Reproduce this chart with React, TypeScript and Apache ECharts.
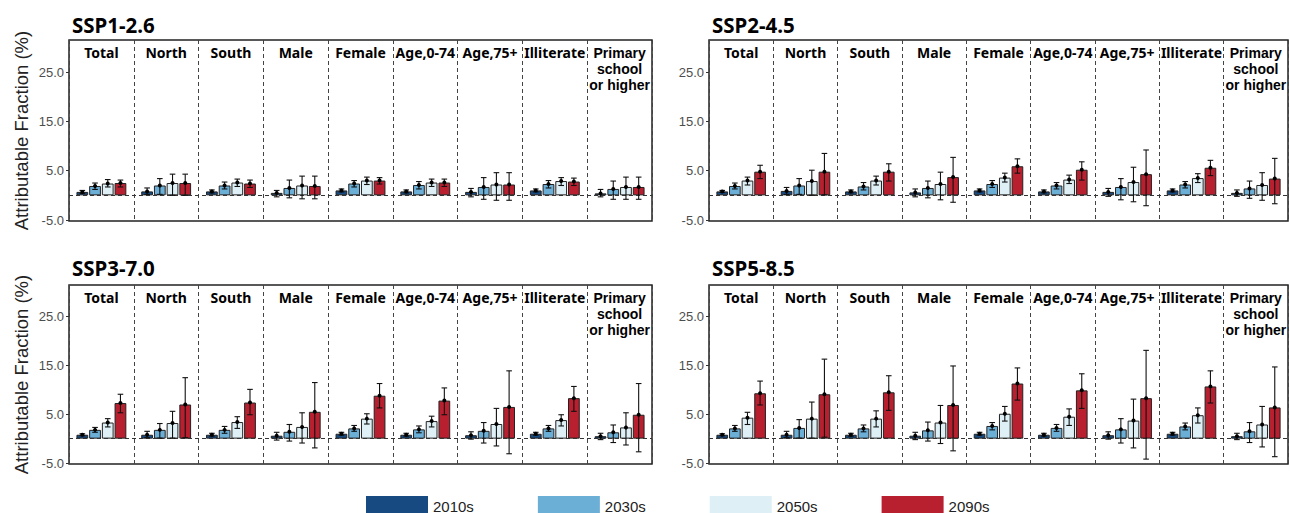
import React, { useEffect, useRef } from "react";
import * as echarts from "echarts";

// ---------- data ----------
const categories = [
  "Total",
  "North",
  "South",
  "Male",
  "Female",
  "Age,0-74",
  "Age,75+",
  "Illiterate",
  "Primary\nschool\nor higher",
];
const decades = ["2010s", "2030s", "2050s", "2090s"];
const decadeColors = ["#164a80", "#6baed6", "#def0f6", "#b8202f"];
const scenarios = ["SSP1-2.6", "SSP2-4.5", "SSP3-7.0", "SSP5-8.5"];
const yTickValues = [-5, 5, 15, 25];

// rows: 2010s, 2030s, 2050s, 2090s ; columns follow categories
const ssp126Mean = [
  [0.7, 0.8, 0.8, 0.5, 1.0, 0.8, 0.7, 1.0, 0.4],
  [1.9, 2.0, 2.0, 1.5, 2.4, 2.1, 1.7, 2.3, 1.3],
  [2.4, 2.5, 2.6, 2.0, 3.0, 2.6, 2.2, 2.9, 1.7],
  [2.5, 2.5, 2.4, 1.9, 3.0, 2.6, 2.2, 2.8, 1.7],
];
const ssp126Low = [
  [0.4, 0.2, 0.5, -0.3, 0.7, 0.5, -0.3, 0.7, -0.3],
  [1.2, 0.2, 1.3, -0.5, 1.7, 1.3, -0.8, 1.5, -0.8],
  [1.7, 0.0, 1.8, -0.7, 2.2, 1.8, -1.0, 2.0, -0.8],
  [1.7, 0.0, 1.6, -0.7, 2.3, 1.8, -1.0, 2.0, -0.8],
];
const ssp126High = [
  [1.0, 1.5, 1.1, 1.0, 1.3, 1.1, 1.4, 1.3, 1.2],
  [2.5, 3.4, 2.7, 3.1, 3.0, 2.8, 3.6, 3.0, 2.9],
  [3.2, 4.3, 3.3, 3.9, 3.7, 3.3, 4.6, 3.6, 3.7],
  [3.1, 4.3, 3.1, 3.9, 3.6, 3.3, 4.6, 3.5, 3.7],
];

const ssp245Mean = [
  [0.8, 0.9, 0.8, 0.6, 1.0, 0.8, 0.7, 1.0, 0.5],
  [1.9, 2.0, 1.8, 1.5, 2.3, 2.0, 1.7, 2.2, 1.4],
  [3.0, 2.9, 3.0, 2.3, 3.6, 3.2, 2.7, 3.5, 2.1],
  [4.8, 4.8, 4.8, 3.7, 5.9, 5.2, 4.3, 5.6, 3.4],
];
const ssp245Low = [
  [0.6, 0.2, 0.5, -0.3, 0.7, 0.5, -0.2, 0.7, -0.2],
  [1.3, 0.2, 1.1, -0.5, 1.6, 1.3, -0.9, 1.5, -0.6],
  [2.1, 0.0, 2.1, -0.9, 2.7, 2.4, -1.3, 2.6, -1.0],
  [3.4, 0.1, 2.9, -1.4, 4.5, 3.1, -2.1, 4.0, -1.7],
];
const ssp245High = [
  [1.0, 1.6, 1.1, 1.3, 1.3, 1.1, 1.4, 1.3, 1.1],
  [2.5, 3.4, 2.6, 2.9, 3.0, 2.6, 3.4, 2.8, 2.9],
  [3.7, 5.1, 3.9, 4.7, 4.5, 4.1, 5.7, 4.4, 4.6],
  [6.1, 8.5, 6.4, 7.7, 7.4, 6.8, 9.2, 7.1, 7.5],
];

const ssp370Mean = [
  [0.8, 0.8, 0.8, 0.6, 1.0, 0.8, 0.7, 1.0, 0.5],
  [1.8, 1.8, 1.8, 1.4, 2.1, 1.9, 1.6, 2.1, 1.3],
  [3.3, 3.2, 3.4, 2.4, 4.1, 3.6, 3.0, 3.8, 2.3],
  [7.3, 7.0, 7.4, 5.5, 8.8, 7.8, 6.5, 8.3, 4.9],
];
const ssp370Low = [
  [0.6, 0.2, 0.5, -0.3, 0.7, 0.5, -0.1, 0.7, -0.2],
  [1.3, 0.1, 1.1, -0.5, 1.5, 1.2, -0.9, 1.5, -0.8],
  [2.4, 0.1, 2.1, -0.9, 3.0, 2.4, -1.5, 2.6, -1.3],
  [5.3, 0.2, 4.9, -1.9, 6.3, 4.9, -3.1, 5.6, -2.7],
];
const ssp370High = [
  [1.0, 1.5, 1.1, 1.3, 1.3, 1.1, 1.4, 1.3, 1.1],
  [2.3, 3.1, 2.5, 2.9, 2.7, 2.6, 3.3, 2.7, 2.8],
  [4.1, 5.6, 4.5, 5.3, 5.1, 4.6, 6.2, 4.9, 5.3],
  [9.1, 12.5, 10.1, 11.5, 11.3, 10.4, 13.9, 10.7, 11.3],
];

const ssp585Mean = [
  [0.8, 0.8, 0.8, 0.6, 1.0, 0.8, 0.7, 1.0, 0.5],
  [2.1, 2.2, 2.1, 1.7, 2.6, 2.2, 1.9, 2.5, 1.5],
  [4.3, 4.1, 4.1, 3.3, 5.1, 4.5, 3.7, 4.8, 2.9],
  [9.3, 9.1, 9.5, 6.9, 11.3, 9.9, 8.3, 10.7, 6.4],
];
const ssp585Low = [
  [0.6, 0.2, 0.5, -0.2, 0.7, 0.5, -0.1, 0.7, -0.2],
  [1.5, 0.1, 1.4, -0.5, 1.8, 1.5, -0.9, 1.8, -0.8],
  [2.9, 0.1, 2.4, -1.0, 3.6, 2.7, -1.9, 3.2, -1.7],
  [6.9, 0.3, 5.8, -2.5, 7.9, 6.2, -4.2, 7.3, -3.7],
];
const ssp585High = [
  [1.0, 1.5, 1.1, 1.3, 1.3, 1.1, 1.4, 1.3, 1.1],
  [2.7, 3.9, 2.8, 3.4, 3.3, 2.9, 4.1, 3.2, 3.3],
  [5.4, 7.5, 5.7, 6.8, 6.6, 6.1, 8.1, 6.3, 6.6],
  [11.8, 16.3, 12.9, 14.9, 14.5, 13.3, 18.1, 13.9, 14.7],
];

const scenarioMeans = [ssp126Mean, ssp245Mean, ssp370Mean, ssp585Mean];
const scenarioLows = [ssp126Low, ssp245Low, ssp370Low, ssp585Low];
const scenarioHighs = [ssp126High, ssp245High, ssp370High, ssp585High];

// ---------- layout ----------
const grids = [
  { left: 69, top: 40, width: 583, height: 181 },
  { left: 709, top: 40, width: 579, height: 181 },
  { left: 69, top: 285, width: 583, height: 179 },
  { left: 709, top: 285, width: 579, height: 179 },
];
const titlePos = [
  { left: 67, top: 9 },
  { left: 707, top: 9 },
  { left: 67, top: 252 },
  { left: 707, top: 252 },
];
const CAT_GAP = 0.23;
const BAR_GAP = 0.08;
const SANS = "'Liberation Sans', Arial, sans-serif";
const BOLD = "'Noto Sans', 'Open Sans', sans-serif";

function makeErrRender(d: number) {
  return (params: any, api: any) => {
    const idx = api.value(0);
    const lo = api.value(1);
    const hi = api.value(2);
    const m = api.value(3);
    const c = api.coord([idx, m]);
    const W = api.size([1, 0])[0];
    const inner = W * (1 - CAT_GAP);
    const b = inner / (4 + 3 * BAR_GAP);
    const x = c[0] - inner / 2 + b / 2 + d * b * (1 + BAR_GAP);
    const yLo = api.coord([idx, lo])[1];
    const yHi = api.coord([idx, hi])[1];
    const cap = 2.8;
    const style = { stroke: "#111", lineWidth: 1.1 };
    return {
      type: "group",
      children: [
        { type: "line", shape: { x1: x, y1: yLo, x2: x, y2: yHi }, style },
        { type: "line", shape: { x1: x - cap, y1: yLo, x2: x + cap, y2: yLo }, style },
        { type: "line", shape: { x1: x - cap, y1: yHi, x2: x + cap, y2: yHi }, style },
        { type: "circle", shape: { cx: x, cy: c[1], r: 2 }, style: { fill: "#000" } },
      ],
    };
  };
}

function facetLabel(v: string) {
  if (v.indexOf("\n") >= 0) {
    return v
      .split("\n")
      .map((s) => "{m|" + s + "}")
      .join("\n");
  }
  return v;
}

export default function App() {
  const ref = useRef<HTMLDivElement>(null);

  useEffect(() => {
    document.body.style.margin = "0";
    if (!ref.current) return;
    const chart = echarts.init(ref.current, undefined, { renderer: "svg" });

    const xAxis: any[] = [];
    const yAxis: any[] = [];
    const series: any[] = [];
    const title: any[] = [];

    scenarios.forEach((sc, g) => {
      title.push({
        text: sc,
        left: titlePos[g].left,
        top: titlePos[g].top,
        textStyle: { fontFamily: BOLD, fontWeight: "bold", fontSize: 20.5, color: "#000" },
      });
      xAxis.push({
        type: "category",
        gridIndex: g,
        data: categories,
        position: "top",
        axisLine: { show: false },
        axisTick: { show: false },
        axisLabel: {
          inside: true,
          interval: 0,
          margin: 5,
          fontFamily: BOLD,
          fontWeight: "bold",
          fontSize: 14,
          lineHeight: 15,
          color: "#000",
          formatter: facetLabel,
          rich: {
            m: {
              fontFamily: SANS,
              fontWeight: "bold",
              fontSize: 14,
              lineHeight: 15.8,
              color: "#000",
            },
          },
        },
        splitLine: {
          show: true,
          interval: 0,
          lineStyle: { type: [4, 3], color: "#444", width: 1 },
        },
      });
      const isLeft = g % 2 === 0;
      yAxis.push({
        type: "value",
        gridIndex: g,
        min: -5.2,
        max: 31.5,
        name: isLeft ? "Attributable Fraction (%)" : "",
        nameLocation: "middle",
        nameRotate: 90,
        nameGap: 38,
        nameTextStyle: { fontFamily: SANS, fontSize: 18.5, color: "#222" },
        axisLine: { show: false },
        splitLine: { show: false },
        axisTick: {
          show: true,
          length: 3,
          customValues: yTickValues,
          lineStyle: { color: "#333", width: 1 },
        },
        axisLabel: {
          customValues: yTickValues,
          formatter: (v: number) => v.toFixed(1),
          fontFamily: SANS,
          fontSize: 13,
          color: "#4d4d4d",
          margin: 5,
        },
      });

      decades.forEach((dec, d) => {
        const s: any = {
          type: "bar",
          name: dec,
          xAxisIndex: g,
          yAxisIndex: g,
          data: scenarioMeans[g][d],
          barCategoryGap: CAT_GAP * 100 + "%",
          barGap: BAR_GAP * 100 + "%",
          itemStyle: { color: decadeColors[d], borderColor: "#222", borderWidth: 1 },
          emphasis: { disabled: true },
        };
        if (d === 0) {
          s.markLine = {
            silent: true,
            symbol: "none",
            label: { show: false },
            lineStyle: { type: [4, 3], color: "#333", width: 1.2 },
            data: [{ yAxis: 0 }],
          };
        }
        series.push(s);
      });

      decades.forEach((dec, d) => {
        series.push({
          type: "custom",
          name: "err-" + dec,
          xAxisIndex: g,
          yAxisIndex: g,
          renderItem: makeErrRender(d),
          encode: { x: 0, y: [1, 2, 3] },
          data: categories.map((_, i) => [
            i,
            scenarioLows[g][d][i],
            scenarioHighs[g][d][i],
            scenarioMeans[g][d][i],
          ]),
          z: 5,
        });
      });
    });

    chart.setOption({
      animation: false,
      textStyle: { fontFamily: SANS },
      title,
      grid: grids.map((gr) => ({
        ...gr,
        show: true,
        borderColor: "#222",
        borderWidth: 1.5,
        backgroundColor: "transparent",
        containLabel: false,
      })),
      xAxis,
      yAxis,
      legend: {
        data: decades,
        left: 366,
        top: 496,
        padding: 0,
        icon: "rect",
        itemWidth: 62,
        itemHeight: 20,
        itemGap: 64,
        itemStyle: { borderWidth: 0 },
        textStyle: { fontFamily: SANS, fontSize: 15, color: "#222" },
        selectedMode: false,
      },
      series,
    });

    return () => chart.dispose();
  }, []);

  return <div ref={ref} style={{ width: 1290, height: 513 }} />;
}
